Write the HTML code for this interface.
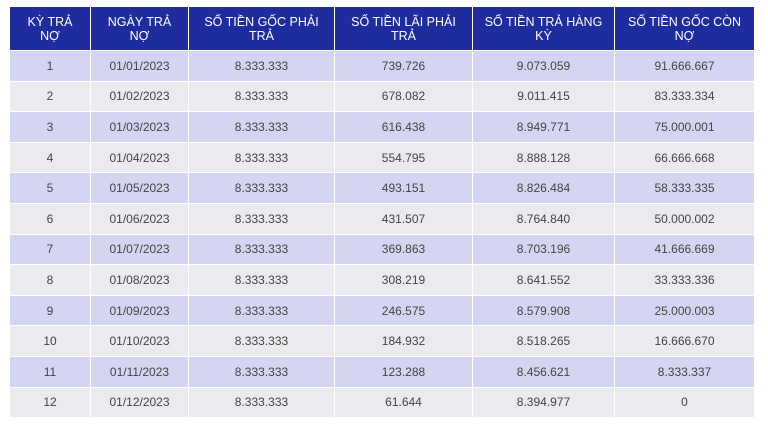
<!DOCTYPE html>
<html><head><style>
body{margin:0;background:#fff;width:768px;height:430px;overflow:hidden;font-family:"Liberation Sans","Noto Sans CJK SC",sans-serif;}
table{position:absolute;left:9px;top:6px;border-collapse:collapse;table-layout:fixed;width:745px;}
td,th{border:1.5px solid #fff;text-align:center;font-size:12px;color:#444;padding:0;}
th{background:#1e2c9e;color:#fff;font-weight:normal;line-height:14px;font-size:12.5px;}
thead tr{height:44px;}
tbody tr{height:30.6px;}
tr:nth-child(odd) td{background:#d4d6f1;}
tr:nth-child(even) td{background:#ebebef;}
</style></head><body>
<table>
<colgroup><col style="width:81px"><col style="width:98px"><col style="width:146px"><col style="width:138px"><col style="width:142px"><col style="width:140px"></colgroup>
<thead><tr><th>KỲ TRẢ<br>NỢ</th><th>NGÀY TRẢ<br>NỢ</th><th>SỐ TIỀN GỐC PHẢI<br>TRẢ</th><th>SỐ TIỀN LÃI PHẢI<br>TRẢ</th><th>SỐ TIỀN TRẢ HÀNG<br>KỲ</th><th>SỐ TIỀN GỐC CÒN<br>NỢ</th></tr></thead>
<tbody>
<tr><td>1</td><td>01/01/2023</td><td>8.333.333</td><td>739.726</td><td>9.073.059</td><td>91.666.667</td></tr>
<tr><td>2</td><td>01/02/2023</td><td>8.333.333</td><td>678.082</td><td>9.011.415</td><td>83.333.334</td></tr>
<tr><td>3</td><td>01/03/2023</td><td>8.333.333</td><td>616.438</td><td>8.949.771</td><td>75.000.001</td></tr>
<tr><td>4</td><td>01/04/2023</td><td>8.333.333</td><td>554.795</td><td>8.888.128</td><td>66.666.668</td></tr>
<tr><td>5</td><td>01/05/2023</td><td>8.333.333</td><td>493.151</td><td>8.826.484</td><td>58.333.335</td></tr>
<tr><td>6</td><td>01/06/2023</td><td>8.333.333</td><td>431.507</td><td>8.764.840</td><td>50.000.002</td></tr>
<tr><td>7</td><td>01/07/2023</td><td>8.333.333</td><td>369.863</td><td>8.703.196</td><td>41.666.669</td></tr>
<tr><td>8</td><td>01/08/2023</td><td>8.333.333</td><td>308.219</td><td>8.641.552</td><td>33.333.336</td></tr>
<tr><td>9</td><td>01/09/2023</td><td>8.333.333</td><td>246.575</td><td>8.579.908</td><td>25.000.003</td></tr>
<tr><td>10</td><td>01/10/2023</td><td>8.333.333</td><td>184.932</td><td>8.518.265</td><td>16.666.670</td></tr>
<tr><td>11</td><td>01/11/2023</td><td>8.333.333</td><td>123.288</td><td>8.456.621</td><td>8.333.337</td></tr>
<tr><td>12</td><td>01/12/2023</td><td>8.333.333</td><td>61.644</td><td>8.394.977</td><td>0</td></tr>
</tbody></table>
</body></html>
